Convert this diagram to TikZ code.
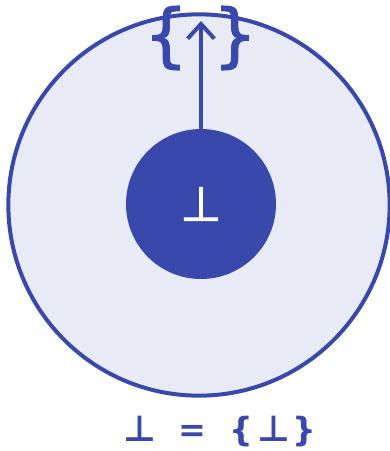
\documentclass[tikz,border=0pt]{standalone}
\usepackage{fontspec}
\setmainfont{DejaVu Sans}
\newfontfamily\heavy{DejaVu Sans}[FakeBold=1.5]
\usetikzlibrary{arrows.meta,positioning}
\definecolor{ink}{HTML}{3949AB}
\definecolor{pale}{HTML}{E8EAF6}
\newcommand\botsym{{\fontsize{27}{27}\selectfont ⊥}}
\tikzset{outer/.style={circle,draw=ink,fill=pale,line width=3pt,minimum size=286pt,inner sep=0pt},
  inner/.style={circle,fill=ink,minimum size=112.5pt,inner sep=0pt,text=white,font=\heavy\fontsize{36}{36}\selectfont},
  brace/.style={text=ink,font=\heavy\fontsize{52}{52}\selectfont},
  lift/.style={draw=ink,line width=3pt,-{Straight Barb[length=11pt,width=20pt,line width=3pt]}}}
\begin{document}
\begin{tikzpicture}[x=.75pt,y=-.75pt]
\useasboundingbox (0,0) rectangle (390,451);
\node[outer] (set) at (199,205) {};
\node[inner] (bot) at (201,204) {⊥};
\node[brace] (lb) at (166,38) {\{};
\node[brace] (rb) at (235,38) {\}};
\coordinate (tip) at (201,21);
\draw[lift] (bot.north) -- (tip);
\node[text=ink,font=\bfseries\fontsize{25}{25}\selectfont] (eq) at (220,432)
  {\botsym\hspace{17pt}=\hspace{17pt}\{\hspace{3pt}\botsym\hspace{2pt}\}};
\end{tikzpicture}
\end{document}
